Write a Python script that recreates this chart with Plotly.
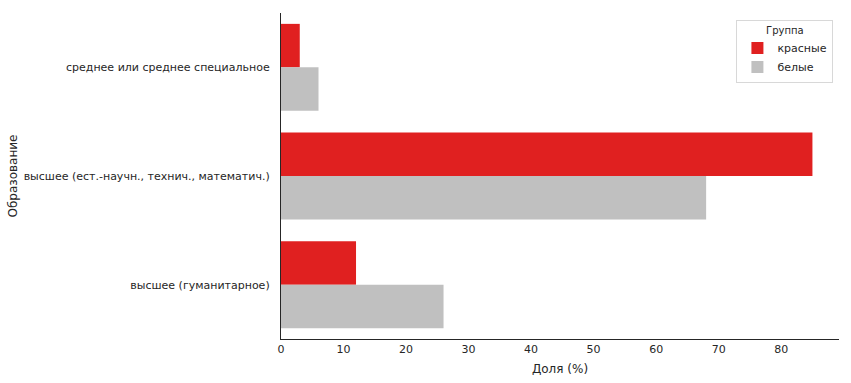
import plotly.graph_objects as go

categories = ["среднее или среднее специальное",
              "высшее (ест.-научн., технич., математич.)",
              "высшее (гуманитарное)"]
red_values = [3, 85, 12]
white_values = [6, 68, 26]
series_names = ["красные", "белые"]
tick_vals = [0, 10, 20, 30, 40, 50, 60, 70, 80]

font = "DejaVu Sans"
fig = go.Figure()
fig.add_trace(go.Bar(y=categories, x=red_values, orientation="h", name=series_names[0],
                     marker=dict(color="#e02020", line=dict(width=0))))
fig.add_trace(go.Bar(y=categories, x=white_values, orientation="h", name=series_names[1],
                     marker=dict(color="#c0c0c0", line=dict(width=0))))

fig.update_layout(
    width=851, height=383,
    margin=dict(l=281, r=12, t=13, b=44, autoexpand=False),
    paper_bgcolor="white", plot_bgcolor="white",
    barmode="group", bargap=0.2, bargroupgap=0,
    font=dict(family=font, size=11, color="#262626"),
    legend=dict(
        title=dict(text="Группа", side="top center", font=dict(size=10)),
        x=0.99, y=0.98, xanchor="right", yanchor="top",
        bgcolor="white", bordercolor="#d8d8d8", borderwidth=1,
        font=dict(size=11), itemwidth=30, tracegroupgap=0,
    ),
    showlegend=True,
)
fig.update_xaxes(
    range=[0, 89.25], tickvals=tick_vals, showgrid=False, zeroline=False,
    showline=True, linecolor="#262626", linewidth=1.25, ticks="",
    automargin=False,
    title=dict(text="Доля (%)", font=dict(size=12), standoff=9),
    tickfont=dict(size=11),
)
fig.update_yaxes(
    range=[2.5, -0.5], showgrid=False, zeroline=False,
    showline=True, linecolor="#262626", linewidth=1.25, ticks="",
    automargin=False, ticklabelstandoff=8,
    title=dict(text="Образование", font=dict(size=12), standoff=3),
    tickfont=dict(size=11),
)
fig.write_html("out.html", config={"displayModeBar": False},
               post_script="document.body.style.margin='0';document.body.style.overflow='hidden';")
